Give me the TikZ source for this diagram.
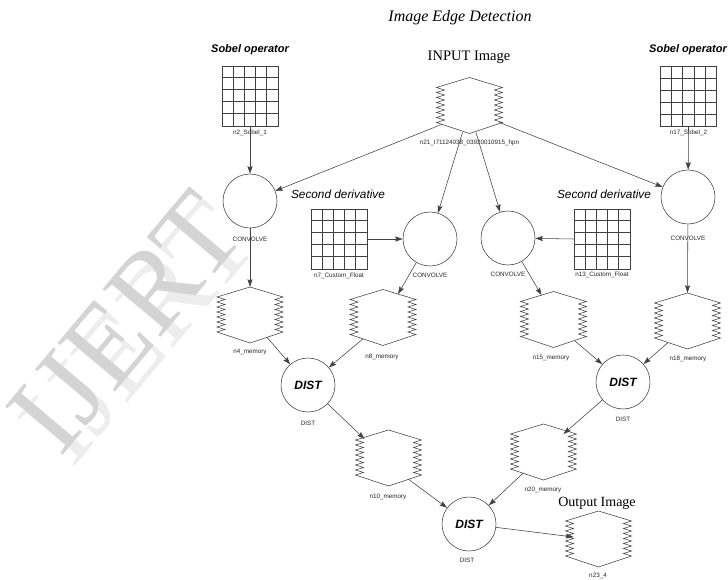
\documentclass[tikz,border=0pt]{standalone}
\usepackage{fontspec}
\setmainfont{Liberation Serif}
\setsansfont{Liberation Sans}
\usetikzlibrary{arrows.meta,calc}
\tikzset{
  ln/.style={draw=black!75, line width=0.55pt},
  arr/.style={ln, -{Stealth[length=7.5pt,width=5pt,inset=1.2pt]}},
  opnode/.style={circle, ln, minimum size=54pt, inner sep=0pt},
  memnode/.style={rectangle, minimum width=66pt, minimum height=56pt, inner sep=0pt},
  gridnode/.style={rectangle, ln, minimum width=56pt, minimum height=60pt, inner sep=0pt},
  lbl/.style={font=\sffamily\fontsize{6.3}{7}\selectfont, inner sep=0pt, text=black!85},
  sobtxt/.style={font=\sffamily\bfseries\itshape\fontsize{11}{13}\selectfont, inner sep=0pt},
  dertxt/.style={font=\sffamily\itshape\fontsize{11.8}{13}\selectfont, inner sep=0pt},
  disttxt/.style={font=\sffamily\bfseries\itshape\fontsize{12}{14}\selectfont},
  wmark/.style={font=\rmfamily\fontsize{115}{115}\selectfont, text=black!17, inner sep=0pt},
  wshadow/.style={wmark, text=black!7},
}
\newcommand\memdraw[1]{%
  \draw[ln, shift={(#1.center)}] (0,-28) -- (-33,-18)
    \foreach \k in {0,...,6} { -- (-25,-15.5+5*\k) -- (-33,-13+5*\k) } -- (0,28) -- (33,17)
    \foreach \k in {0,...,6} { -- (25,14.5-5*\k) -- (33,12-5*\k) } -- cycle;}
\newcommand\griddraw[1]{%
  \foreach \k in {1,...,4}{
    \draw[ln] ($(#1.north west)+(11.2*\k,0)$) -- ($(#1.south west)+(11.2*\k,0)$);
    \draw[ln] ($(#1.north west)+(0,12*\k)$) -- ($(#1.north east)+(0,12*\k)$);
  }}
\begin{document}
\begin{tikzpicture}[x=1pt,y=-1pt]
\useasboundingbox[fill=white] (0,0) rectangle (728,580);
% watermark
\node[wshadow, rotate=50] (wms) at (138,333) {IJERT};
\node[wmark, rotate=50] (wm) at (126,322) {IJERT};
% titles
\node[font=\itshape\fontsize{16}{18}\selectfont, inner sep=0pt] (title) at (460,18) {Image Edge Detection};
\node[font=\fontsize{14.5}{16}\selectfont, inner sep=0pt] (intxt) at (469,57) {INPUT Image};
\node[font=\fontsize{14}{16}\selectfont, inner sep=0pt] (outtxt) at (597,503) {Output Image};
\node[sobtxt] (sob1t) at (250,50) {Sobel operator};
\node[sobtxt] (sob2t) at (688,50) {Sobel operator};
\node[dertxt] (der1t) at (338,194) {Second derivative};
\node[dertxt] (der2t) at (604,194) {Second derivative};
% grids
\node[gridnode] (n2) at (250,96) {}; \griddraw{n2}
\node[lbl] (n2l) at (250,133) {n2\_Sobel\_1};
\node[gridnode] (n17) at (688.5,96.5) {}; \griddraw{n17}
\node[lbl] (n17l) at (688.5,133) {n17\_Sobel\_2};
\node[gridnode] (n7) at (339,239) {}; \griddraw{n7}
\node[lbl] (n7l) at (339,276) {n7\_Custom\_Float};
\node[gridnode] (n13) at (602,239) {}; \griddraw{n13}
\node[lbl] (n13l) at (602,275) {n13\_Custom\_Float};
% input
\node[memnode] (n21) at (469.5,105.5) {}; \memdraw{n21}
\node[lbl] (n21l) at (469.5,143) {n21\_I71124038\_03920010915\_hpn};
% convolve
\node[opnode] (c1) at (250,201) {};
\node[lbl] (c1l) at (250,239) {CONVOLVE};
\node[opnode] (c2) at (430,239) {};
\node[lbl] (c2l) at (430,275) {CONVOLVE};
\node[opnode] (c3) at (508,238) {};
\node[lbl] (c3l) at (508,274) {CONVOLVE};
\node[opnode] (c4) at (688,197) {};
\node[lbl] (c4l) at (688,238) {CONVOLVE};
% memories
\node[memnode] (n4) at (250,315) {}; \memdraw{n4}
\node[lbl] (n4l) at (250,352) {n4\_memory};
\node[memnode] (n8) at (383,317.5) {}; \memdraw{n8}
\node[lbl] (n8l) at (382,357) {n8\_memory};
\node[memnode] (n15) at (553.5,319.5) {}; \memdraw{n15}
\node[lbl] (n15l) at (551,358) {n15\_memory};
\node[memnode] (n18) at (687.5,321) {}; \memdraw{n18}
\node[lbl] (n18l) at (688,359) {n18\_memory};
% dist
\node[opnode, disttxt] (d1) at (308,385) {DIST};
\node[lbl] (d1l) at (308,423) {DIST};
\node[opnode, disttxt] (d2) at (623,382) {DIST};
\node[lbl] (d2l) at (623,419) {DIST};
\node[memnode] (n10) at (388.5,458) {}; \memdraw{n10}
\node[lbl] (n10l) at (388,497) {n10\_memory};
\node[memnode] (n20) at (543.5,452) {}; \memdraw{n20}
\node[lbl] (n20l) at (543,490) {n20\_memory};
\node[opnode, disttxt] (d3) at (469,524) {DIST};
\node[lbl] (d3l) at (467,560) {DIST};
\node[memnode] (n23) at (598.5,539) {}; \memdraw{n23}
\node[lbl] (n23l) at (598,576) {n23\_4};
% connectors
\draw[arr] (n2.south) -- (c1);
\draw[arr] (n17.south) -- (c4);
\draw[arr] ($(n21)+(-28,19)$) -- (c1);
\draw[arr] ($(n21)+(-7,27)$) -- (c2);
\draw[arr] ($(n21)+(6.5,27)$) -- (c3);
\draw[arr] ($(n21)+(30,17)$) -- (c4);
\draw[arr] (n7.east) -- (c2);
\draw[arr] (n13.west) -- (c3);
\draw[arr] (c1) -- (n4.north);
\draw[arr] (c4) -- (n18.north);
\draw[arr] (c2) -- ($(n8)+(15,-23.5)$);
\draw[arr] (c3) -- ($(n15)+(-12,-24.4)$);
\draw[arr] ($(n4)+(17,22.3)$) -- (d1);
\draw[arr] ($(n8)+(-20,21.3)$) -- (d1);
\draw[arr] ($(n15)+(21,21)$) -- (d2);
\draw[arr] ($(n18)+(-19.5,21.5)$) -- (d2);
\draw[arr] (d1) -- ($(n10)+(-24,-19)$);
\draw[arr] (d2) -- ($(n20)+(20,-18)$);
\draw[arr] ($(n10)+(20,21.3)$) -- (d3);
\draw[arr] ($(n20)+(-20.5,21.2)$) -- (d3);
\draw[arr] (d3) -- ($(n23)+(-25,-2)$);
\end{tikzpicture}
\end{document}
